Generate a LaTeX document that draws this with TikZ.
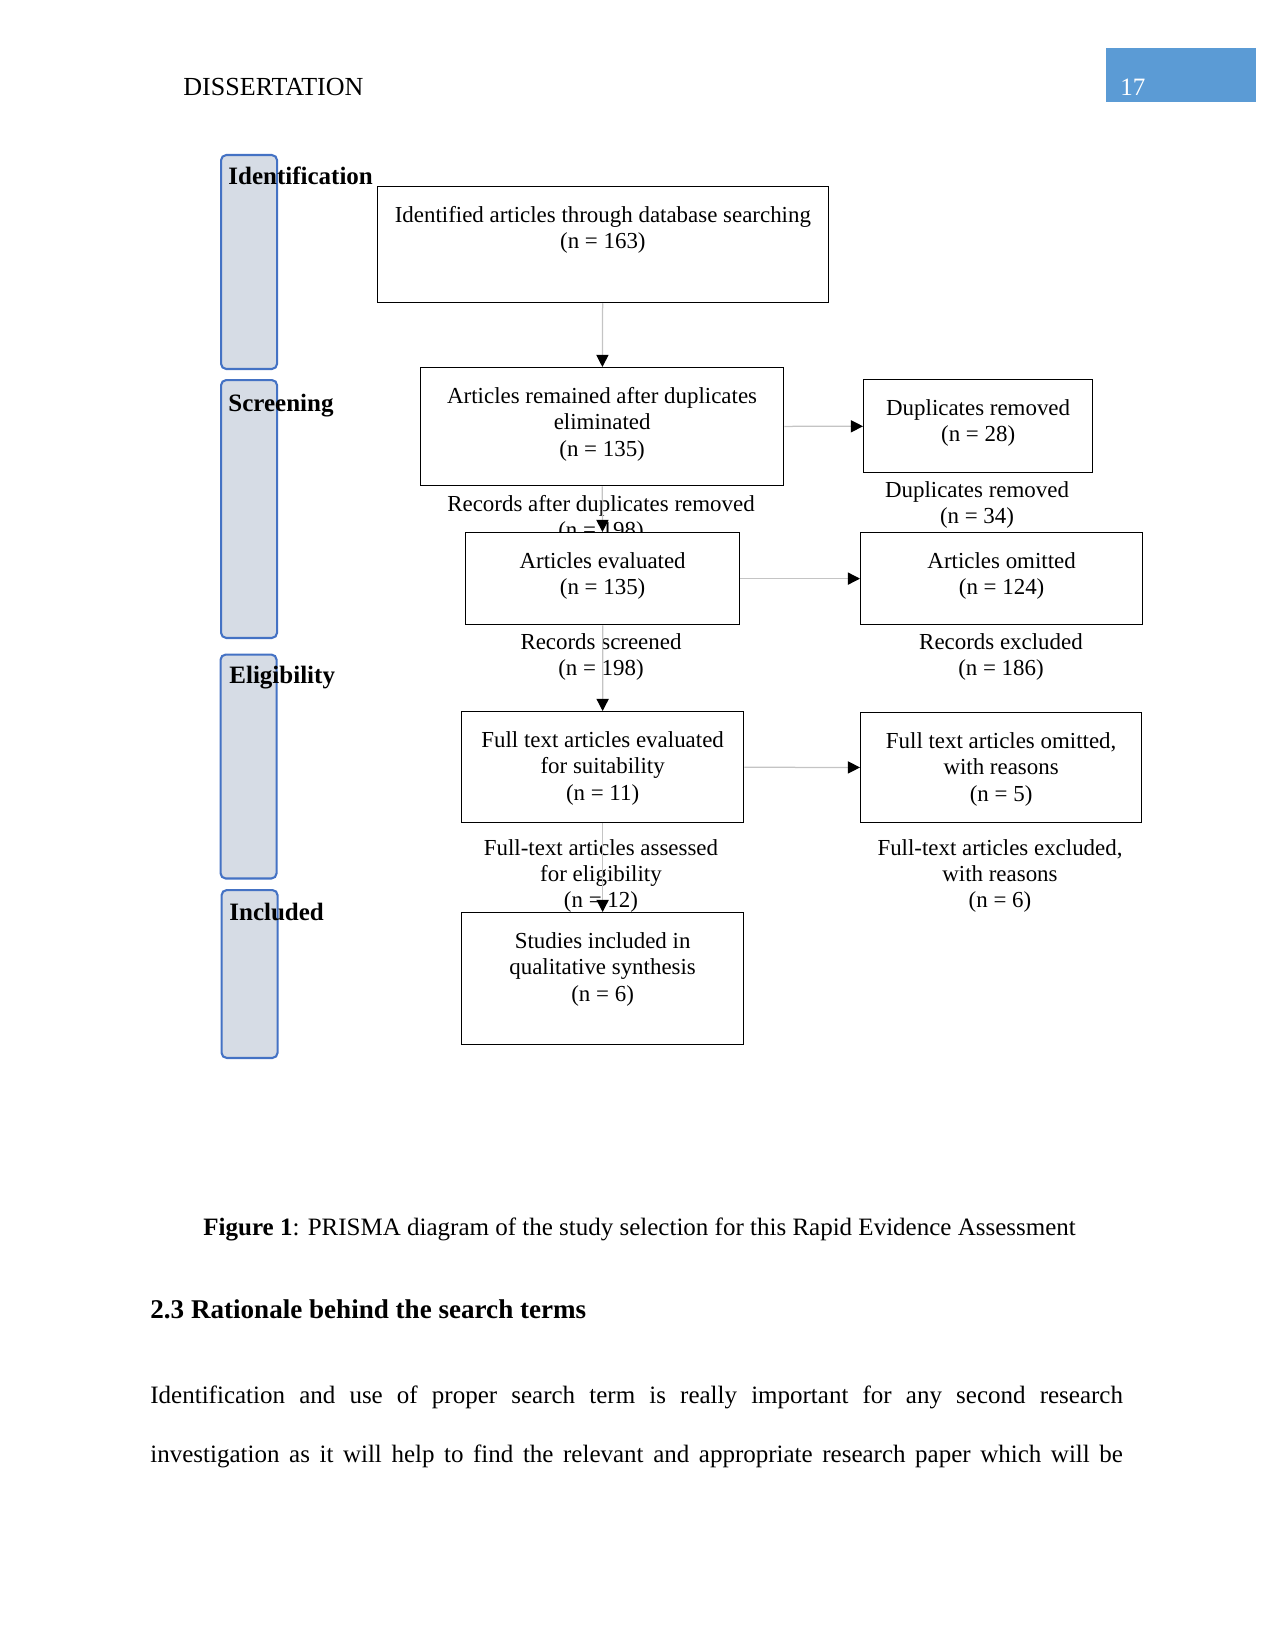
\documentclass[tikz,border=0pt]{standalone}
\usepackage{fontspec}
\setmainfont{Liberation Serif}
\usetikzlibrary{arrows.meta,positioning}

\definecolor{phaseblue}{HTML}{4472C4}
\definecolor{phasefill}{HTML}{D6DCE5}
\definecolor{headblue}{HTML}{5B9BD5}
\definecolor{linegray}{HTML}{C4C4C4}

\begin{document}
\begin{tikzpicture}[
  x=0.48pt, y=-0.48pt,
  every node/.style={font=\fontsize{12pt}{12.7pt}\selectfont},
  phase/.style={draw=phaseblue, line width=1pt, fill=phasefill, rounded corners=2.5pt, anchor=north west, inner sep=0pt, minimum width=26.9pt},
  phaselabel/.style={anchor=base west, inner sep=0pt, font=\fontsize{12pt}{12.7pt}\selectfont\bfseries},
  box/.style={draw, fill=white, line width=0.6pt, anchor=north west, inner sep=0pt, align=flush center, text height=17.1pt, font=\fontsize{11pt}{12.7pt}\selectfont},
  note/.style={anchor=base, inner sep=0pt, align=flush center, text width=220pt, font=\fontsize{11pt}{12.7pt}\selectfont},
  arrow/.style={draw=linegray, line width=0.6pt, -{Triangle[length=5.8pt, width=5.8pt, color=black]}}
]
\useasboundingbox (0,0) rectangle (1275,1651);

% page header
\node[anchor=base west, inner sep=0pt, font=\fontsize{12.5pt}{13pt}\selectfont] (runhead) at (183,96) {DISSERTATION};
\node[fill=headblue, anchor=north west, inner sep=0pt, minimum width=72pt, minimum height=25.9pt] (pagebox) at (1106,47.5) {};
\node[anchor=base west, inner sep=0pt, text=white] (pagenum) at (1120,96) {17};

% counts under the boxes
\node[note] (recdup) at (601,511) {Records after duplicates removed\\(n = 198)};
\node[note] (dupnote) at (977,497) {Duplicates removed\\(n = 34)};
\node[note] (recscr) at (601,649) {Records screened\\(n = 198)};
\node[note] (recexc) at (1001,649) {Records excluded\\(n = 186)};
\node[note] (ftass) at (601,855) {Full-text articles assessed\\for eligibility\\(n = 12)};
\node[note] (ftexc) at (1000,855) {Full-text articles excluded,\\with reasons\\(n = 6)};

% flow boxes
\node[box, text width=216.24pt, text depth=38.58pt] (idbox) at (377,186) {Identified articles through database searching\\(n = 163)};
\node[box, text width=174.24pt, text depth=39.54pt] (rembox) at (420,367) {Articles remained after duplicates\\eliminated\\(n = 135)};
\node[box, text width=109.92pt, text depth=27.54pt] (dupbox) at (863,379) {Duplicates removed\\(n = 28)};
\node[box, text width=131.52pt, text depth=27.06pt] (evalbox) at (465,532) {Articles evaluated\\(n = 135)};
\node[box, text width=135.36pt, text depth=27.06pt] (omitbox) at (860,532) {Articles omitted\\(n = 124)};
\node[box, text width=135.36pt, text depth=36.18pt] (fteval) at (461,711) {Full text articles evaluated\\for suitability\\(n = 11)};
\node[box, text width=134.88pt, text depth=35.7pt] (ftomit) at (860,712) {Full text articles omitted,\\with reasons\\(n = 5)};
\node[box, text width=135.36pt, text depth=46.26pt] (incl) at (461,912) {Studies included in\\qualitative synthesis\\(n = 6)};

\draw[arrow] (idbox) -- (rembox);
\draw[arrow] (rembox) -- (dupbox);
\draw[arrow] (rembox) -- (evalbox);
\draw[arrow] (evalbox) -- (omitbox);
\draw[arrow] (evalbox) -- (fteval);
\draw[arrow] (fteval) -- (ftomit);
\draw[arrow] (fteval) -- (incl);

% phase bars
\node[phase, minimum height=102.7pt] (idphase) at (220,154) {};
\node[phase, minimum height=123.8pt] (scrphase) at (220,379) {};
\node[phase, minimum height=107.5pt] (eligphase) at (219.5,653.5) {};
\node[phase, minimum height=80.6pt] (inclphase) at (220.5,889) {};
\node[phaselabel] (idlabel) at (228,185) {Identification};
\node[phaselabel] (scrlabel) at (228,411) {Screening};
\node[phaselabel] (eliglabel) at (229,683) {Eligibility};
\node[phaselabel] (incllabel) at (229,920) {Included};

% caption and following text
\node[anchor=base west, inner sep=0pt] (caption) at (203,1235) {\textbf{Figure 1}: PRISMA diagram of the study selection for this Rapid Evidence Assessment};
\node[anchor=base west, inner sep=0pt, font=\fontsize{13pt}{14pt}\selectfont\bfseries] (heading) at (150,1318) {2.3 Rationale behind the search terms};
\node[anchor=base west, inner sep=0pt] (line1) at (150,1403) {\makebox[466.8pt][s]{Identification and use of proper search term is really important for any second research}};
\node[anchor=base west, inner sep=0pt] (line2) at (150,1462) {\makebox[466.8pt][s]{investigation as it will help to find the relevant and appropriate research paper which will be}};
\end{tikzpicture}
\end{document}
